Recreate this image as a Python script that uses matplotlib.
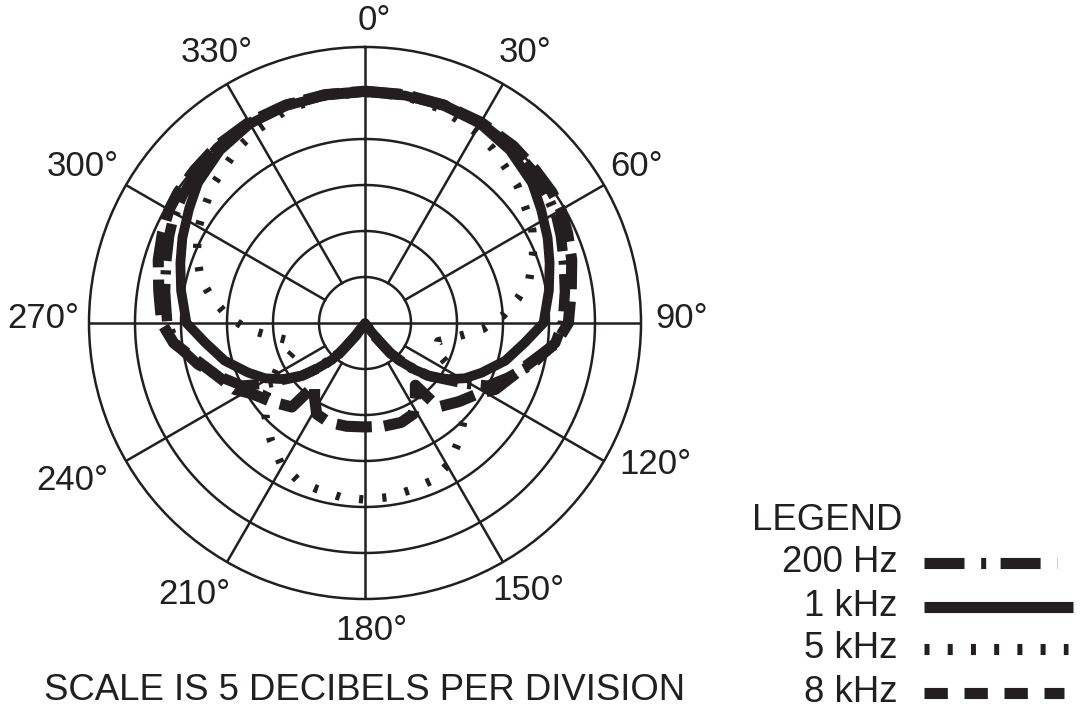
import numpy as np
import matplotlib
matplotlib.use('Agg')
import matplotlib.pyplot as plt

# ── polar response data (dB, outer ring = 0 dB, centre = -30 dB) ─────────────
# right half only (0..180 deg), the pattern is symmetric
ang_200 = [0, 10, 20, 30, 40, 48, 55, 61, 66, 73, 81, 90, 96, 104, 111, 117,
           121, 125, 130, 135, 140, 144, 148, 180]
db_200 = [-4.8, -4.8, -4.8, -4.9, -5.1, -5.4, -5.8, -6.2, -6.7, -7.4, -8.0,
          -8.5, -9.2, -11.3, -13.4, -15.0, -17.2, -19.3, -21.1, -23.3, -25.7,
          -28.3, -30.0, -30.0]

ang_1k = [0, 10, 20, 30, 40, 50, 57, 65, 72, 80, 90, 97, 105, 113, 119, 124,
          129, 133, 138, 141, 144, 147, 180]
db_1k = [-4.9, -4.9, -4.9, -5.0, -5.5, -6.3, -7.2, -8.1, -8.9, -9.7, -10.6,
         -12.5, -14.2, -16.2, -17.6, -19.1, -20.7, -22.5, -24.6, -26.6, -28.9,
         -30.0, -30.0]

ang_5k = [0, 10, 20, 30, 36, 42, 48, 55, 61, 68, 75, 81, 87, 93, 97, 104,
          112, 118, 125, 133, 141, 149, 157, 164, 172, 180]
db_5k = [-5.0, -5.0, -5.3, -6.0, -6.5, -7.2, -7.7, -8.6, -9.2, -10.3, -11.5,
         -13.2, -15.0, -17.2, -19.3, -21.8, -21.6, -19.2, -17.0, -15.2, -13.7,
         -12.2, -11.4, -11.2, -10.9, -10.8]

ang_8k = [0, 10, 20, 30, 40, 48, 55, 60, 66, 73, 81, 86, 90, 96, 101, 108,
          117, 122, 130, 139, 141, 146, 152, 160, 170, 180]
db_8k = [-4.8, -4.8, -4.8, -4.8, -4.9, -5.1, -5.2, -5.4, -5.9, -6.5, -7.3,
         -7.7, -7.9, -9.1, -10.8, -12.6, -14.1, -15.5, -16.7, -17.9, -21.3,
         -20.2, -18.8, -18.5, -18.6, -18.7]

angle_labels = [0, 30, 60, 90, 120, 150, 180, 210, 240, 270, 300, 330]
legend_names = ['200 Hz', '1 kHz', '5 kHz', '8 kHz']

INK = '#231f20'
FONT = 'Liberation Sans'
R_MIN, R_MAX = -30, 0

# where each angle label sits, in figure pixels (x, y from top-left)
label_xy = [(374, 20), (525, 52), (637, 167), (682, 318), (655, 464),
            (528, 590), (371, 630), (194, 594), (72, 481), (43, 318),
            (83, 167), (217, 52)]


def full_pattern(ang, db):
    """mirror a 0..180 half pattern to the full circle (radians, dB)"""
    a = np.asarray(ang, dtype=float)
    d = np.asarray(db, dtype=float)
    a_full = np.concatenate([a, 360 - a[::-1][1:]])
    d_full = np.concatenate([d, d[::-1][1:]])
    return np.deg2rad(a_full), d_full


fig = plt.figure(figsize=(10.9, 7.21), dpi=100)

# polar axes: centre at (365, 323) px, radius 276 px
ax = fig.add_axes([89 / 1090, (721 - 323 - 276) / 721, 552 / 1090, 552 / 721],
                  projection='polar')
ax.set_theta_zero_location('N')
ax.set_theta_direction(-1)
ax.set_ylim(R_MIN, R_MAX)
ax.grid(False)
ax.set_xticks([])
ax.set_yticks([])
ax.spines['polar'].set_linewidth(1.8)
ax.spines['polar'].set_color(INK)

# ── grid: rings every 5 dB, spokes every 30 deg ──────────────────────────────
ring = np.linspace(0, 2 * np.pi, 721)
for level in range(-25, 0, 5):
    ax.plot(ring, np.full_like(ring, level), color=INK, lw=1.8, zorder=1)
for a in range(0, 360, 30):
    start = R_MIN if a % 90 == 0 else -25
    ax.plot([np.deg2rad(a)] * 2, [start, R_MAX], color=INK, lw=1.8, zorder=1)

# ── response curves ─────────────────────────────────────────────────────────
t, r = full_pattern(ang_5k, db_5k)
ax.plot(t, r, color=INK, lw=6, ls=(0, (0.5, 2.3)), zorder=3)
t, r = full_pattern(ang_200, db_200)
ax.plot(t, r, color=INK, lw=7.5, ls=(0, (3.6, 0.9, 0.4, 0.9)), zorder=3)
t, r = full_pattern(ang_8k, db_8k)
ax.plot(t, r, color=INK, lw=8, ls=(0, (3.2, 1.1)), zorder=3)
t, r = full_pattern(ang_1k, db_1k)
ax.plot(t, r, color=INK, lw=7, solid_joinstyle='round', zorder=4)

# ── labels, legend and caption, in a pixel-sized overlay ────────────────────
lax = fig.add_axes([0, 0, 1, 1])
lax.set_xlim(0, 1090)
lax.set_ylim(721, 0)
lax.axis('off')

for a, (x, y) in zip(angle_labels, label_xy):
    lax.text(x, y, f'{a}\u00b0', ha='center', va='center',
             fontsize=25, family=FONT, color=INK)

styles = [dict(ls=(0, (3.6, 1.5, 0.45, 1.3))),
          dict(ls='-', solid_capstyle='butt'),
          dict(ls=(0, (0.45, 1.64))),
          dict(ls=(0, (2.1, 1.5)))]
ends = [1057, 1073, 1068, 1064]
rows_y = [563, 607, 649, 693]

lax.text(752, 521, 'LEGEND', ha='left', va='center', fontsize=26.3,
         family=FONT, color=INK)
for name, st, x_end, y in zip(legend_names, styles, ends, rows_y):
    lax.text(898, y, name, ha='right', va='center', fontsize=26.3,
             family=FONT, color=INK)
    lax.plot([924, x_end], [y, y], color=INK, lw=8, **st)

lax.text(365, 690, 'SCALE IS 5 DECIBELS PER DIVISION', ha='center',
         va='center', fontsize=26.3, family=FONT, color=INK)

fig.savefig('out.png', dpi=100, facecolor='white')
